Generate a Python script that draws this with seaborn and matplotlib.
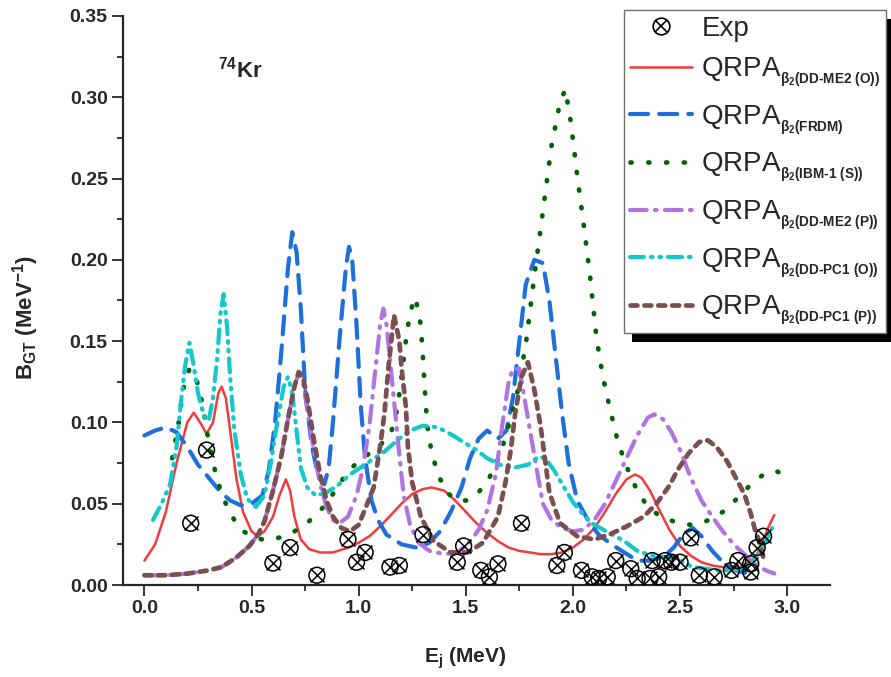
import matplotlib
matplotlib.use("Agg")
import matplotlib.pyplot as plt
import seaborn as sns
import pandas as pd
from matplotlib.lines import Line2D
from matplotlib.patches import Rectangle
from matplotlib.ticker import MultipleLocator, FormatStrFormatter

# ---------------- data ----------------
red_x = [0.00, 0.05, 0.10, 0.15, 0.20, 0.23, 0.26, 0.29, 0.32, 0.345, 0.36, 0.38, 0.40, 0.43, 0.46,
         0.50, 0.53, 0.56, 0.60, 0.63, 0.66, 0.68, 0.70, 0.73, 0.77, 0.82, 0.88, 0.95, 1.00, 1.05,
         1.10, 1.15, 1.20, 1.25, 1.30, 1.34, 1.40, 1.45, 1.50, 1.55, 1.60, 1.65, 1.70, 1.75, 1.80,
         1.85, 1.90, 1.95, 2.00, 2.05, 2.10, 2.15, 2.20, 2.25, 2.29, 2.32, 2.36, 2.40, 2.45, 2.50,
         2.55, 2.60, 2.65, 2.70, 2.75, 2.80, 2.85, 2.88, 2.91, 2.94]
red_y = [0.015, 0.025, 0.045, 0.075, 0.100, 0.106, 0.100, 0.093, 0.100, 0.118, 0.122, 0.115, 0.095, 0.065, 0.045,
         0.033, 0.030, 0.033, 0.042, 0.055, 0.065, 0.058, 0.042, 0.028, 0.022, 0.020, 0.020, 0.023, 0.026, 0.030,
         0.036, 0.043, 0.050, 0.056, 0.059, 0.060, 0.058, 0.052, 0.045, 0.038, 0.032, 0.027, 0.023, 0.021, 0.020,
         0.019, 0.019, 0.020, 0.023, 0.028, 0.035, 0.045, 0.056, 0.065, 0.068, 0.066, 0.058, 0.047, 0.034, 0.024,
         0.018, 0.014, 0.012, 0.011, 0.010, 0.012, 0.017, 0.024, 0.035, 0.043]

blue_x = [0.00, 0.05, 0.10, 0.15, 0.20, 0.25, 0.30, 0.35, 0.40, 0.45, 0.50, 0.55, 0.58, 0.61, 0.64,
          0.67, 0.69, 0.71, 0.73, 0.75, 0.78, 0.81, 0.84, 0.86, 0.88, 0.91, 0.94, 0.955, 0.97, 0.99,
          1.01, 1.03, 1.06, 1.09, 1.13, 1.20, 1.27, 1.33, 1.38, 1.43, 1.48, 1.52, 1.56, 1.60, 1.65,
          1.69, 1.72, 1.75, 1.78, 1.82, 1.86, 1.89, 1.92, 1.95, 1.98, 2.02, 2.07, 2.12, 2.18, 2.24,
          2.30, 2.36, 2.42, 2.47, 2.52, 2.56, 2.60, 2.65, 2.70, 2.76, 2.82, 2.85]
blue_y = [0.092, 0.095, 0.097, 0.094, 0.085, 0.074, 0.066, 0.058, 0.052, 0.049, 0.050, 0.055, 0.070, 0.100, 0.145,
          0.195, 0.217, 0.205, 0.170, 0.120, 0.087, 0.067, 0.062, 0.072, 0.100, 0.150, 0.195, 0.208, 0.200, 0.160,
          0.110, 0.078, 0.052, 0.040, 0.031, 0.025, 0.023, 0.026, 0.033, 0.045, 0.060, 0.078, 0.090, 0.095, 0.090,
          0.095, 0.115, 0.150, 0.185, 0.200, 0.198, 0.175, 0.140, 0.105, 0.075, 0.052, 0.040, 0.031, 0.025, 0.020,
          0.015, 0.015, 0.017, 0.023, 0.032, 0.035, 0.030, 0.021, 0.014, 0.009, 0.007, 0.007]

green_x = [0.13, 0.16, 0.18, 0.21, 0.24, 0.27, 0.30, 0.33, 0.36, 0.40, 0.45, 0.50, 0.55, 0.60, 0.65,
           0.70, 0.75, 0.80, 0.85, 0.90, 0.95, 1.00, 1.05, 1.10, 1.15, 1.18, 1.20, 1.22, 1.24, 1.265,
           1.29, 1.30, 1.31, 1.32, 1.34, 1.37, 1.41, 1.46, 1.51, 1.56, 1.61, 1.66, 1.70, 1.74, 1.78,
           1.82, 1.86, 1.90, 1.94, 1.965, 1.99, 2.02, 2.05, 2.08, 2.11, 2.14, 2.17, 2.21, 2.25, 2.30,
           2.35, 2.40, 2.45, 2.50, 2.55, 2.60, 2.65, 2.70, 2.75, 2.80, 2.85, 2.90, 2.95, 3.00]
green_y = [0.078, 0.100, 0.120, 0.133, 0.128, 0.112, 0.088, 0.070, 0.056, 0.044, 0.034, 0.030, 0.028, 0.028, 0.030,
           0.033, 0.037, 0.043, 0.050, 0.060, 0.070, 0.076, 0.081, 0.086, 0.093, 0.108, 0.128, 0.150, 0.168, 0.177,
           0.160, 0.140, 0.118, 0.098, 0.082, 0.068, 0.057, 0.052, 0.052, 0.057, 0.066, 0.080, 0.098, 0.118, 0.148,
           0.190, 0.230, 0.270, 0.297, 0.305, 0.285, 0.252, 0.222, 0.190, 0.152, 0.128, 0.110, 0.088, 0.073, 0.058,
           0.048, 0.043, 0.040, 0.038, 0.037, 0.038, 0.041, 0.045, 0.051, 0.058, 0.064, 0.069, 0.070, 0.067]

purple_x = [0.00, 0.10, 0.20, 0.30, 0.36, 0.43, 0.49, 0.53, 0.56, 0.60, 0.64, 0.67, 0.70, 0.72, 0.74,
            0.76, 0.79, 0.82, 0.85, 0.88, 0.91, 0.95, 0.99, 1.02, 1.05, 1.08, 1.10, 1.115, 1.13, 1.16,
            1.19, 1.21, 1.24, 1.28, 1.33, 1.40, 1.46, 1.51, 1.56, 1.60, 1.64, 1.67, 1.70, 1.72, 1.75,
            1.77, 1.80, 1.83, 1.86, 1.90, 1.95, 2.00, 2.05, 2.10, 2.15, 2.20, 2.25, 2.30, 2.35, 2.38,
            2.42, 2.46, 2.50, 2.55, 2.60, 2.65, 2.70, 2.75, 2.80, 2.85, 2.90, 2.94]
purple_y = [0.006, 0.006, 0.007, 0.009, 0.011, 0.017, 0.024, 0.031, 0.039, 0.058, 0.080, 0.102, 0.122, 0.130, 0.125,
            0.108, 0.083, 0.062, 0.048, 0.040, 0.038, 0.042, 0.055, 0.072, 0.098, 0.135, 0.160, 0.170, 0.160, 0.120,
            0.080, 0.055, 0.037, 0.026, 0.021, 0.019, 0.020, 0.025, 0.034, 0.046, 0.068, 0.098, 0.125, 0.133, 0.133,
            0.118, 0.095, 0.072, 0.050, 0.040, 0.035, 0.033, 0.034, 0.040, 0.050, 0.064, 0.078, 0.092, 0.103, 0.105,
            0.102, 0.094, 0.083, 0.066, 0.052, 0.042, 0.033, 0.025, 0.019, 0.013, 0.009, 0.007]

cyan_x = [0.04, 0.08, 0.12, 0.15, 0.17, 0.19, 0.21, 0.23, 0.25, 0.28, 0.30, 0.32, 0.34, 0.355, 0.37,
          0.385, 0.40, 0.42, 0.45, 0.48, 0.52, 0.56, 0.59, 0.62, 0.65, 0.67, 0.69, 0.71, 0.73, 0.76,
          0.80, 0.85, 0.90, 0.96, 1.04, 1.12, 1.18, 1.24, 1.30, 1.37, 1.44, 1.50, 1.55, 1.60, 1.66,
          1.72, 1.79, 1.84, 1.87, 1.91, 1.95, 2.00, 2.05, 2.10, 2.17, 2.24, 2.30, 2.37, 2.44, 2.50,
          2.56, 2.62, 2.68, 2.75, 2.81, 2.86, 2.90, 2.93]
cyan_y = [0.040, 0.050, 0.062, 0.085, 0.112, 0.135, 0.149, 0.135, 0.118, 0.103, 0.101, 0.115, 0.140, 0.167, 0.179,
          0.160, 0.128, 0.095, 0.068, 0.053, 0.048, 0.055, 0.075, 0.100, 0.122, 0.128, 0.118, 0.095, 0.072, 0.060,
          0.055, 0.057, 0.061, 0.068, 0.075, 0.082, 0.089, 0.095, 0.098, 0.097, 0.092, 0.087, 0.083, 0.078, 0.074,
          0.072, 0.074, 0.079, 0.078, 0.071, 0.062, 0.051, 0.043, 0.037, 0.032, 0.027, 0.021, 0.018, 0.017, 0.015,
          0.011, 0.010, 0.009, 0.009, 0.011, 0.018, 0.027, 0.035]

brown_x = [0.00, 0.10, 0.20, 0.30, 0.36, 0.43, 0.49, 0.53, 0.56, 0.60, 0.64, 0.67, 0.70, 0.72, 0.74,
           0.76, 0.79, 0.82, 0.85, 0.88, 0.92, 0.96, 1.00, 1.04, 1.07, 1.10, 1.12, 1.14, 1.165, 1.19,
           1.20, 1.22, 1.23, 1.25, 1.29, 1.35, 1.43, 1.51, 1.58, 1.65, 1.685, 1.71, 1.73, 1.76, 1.79,
           1.82, 1.85, 1.87, 1.89, 1.94, 2.02, 2.10, 2.17, 2.25, 2.33, 2.39, 2.45, 2.49, 2.54, 2.59,
           2.63, 2.67, 2.72, 2.76, 2.80, 2.83, 2.85, 2.875, 2.89]
brown_y = [0.006, 0.006, 0.007, 0.009, 0.011, 0.017, 0.024, 0.031, 0.039, 0.058, 0.080, 0.102, 0.122, 0.131, 0.128,
           0.115, 0.090, 0.068, 0.052, 0.042, 0.035, 0.033, 0.037, 0.050, 0.060, 0.085, 0.105, 0.135, 0.166, 0.150,
           0.134, 0.110, 0.085, 0.063, 0.042, 0.027, 0.020, 0.020, 0.026, 0.042, 0.063, 0.083, 0.105, 0.128, 0.137,
           0.120, 0.097, 0.077, 0.057, 0.038, 0.030, 0.028, 0.031, 0.036, 0.042, 0.050, 0.061, 0.071, 0.081, 0.088,
           0.089, 0.085, 0.076, 0.066, 0.056, 0.044, 0.034, 0.025, 0.016]

exp_x = [0.216, 0.29, 0.60, 0.68, 0.805, 0.95, 0.99, 1.03, 1.146, 1.19, 1.30, 1.46, 1.49, 1.57, 1.61,
         1.65, 1.76, 1.925, 1.96, 2.04, 2.09, 2.12, 2.16, 2.20, 2.27, 2.30, 2.36, 2.40, 2.37, 2.43,
         2.46, 2.50, 2.55, 2.59, 2.66, 2.74, 2.77, 2.83, 2.86, 2.89, 2.83]
exp_y = [0.038, 0.083, 0.0135, 0.023, 0.006, 0.028, 0.014, 0.020, 0.011, 0.012, 0.031, 0.014, 0.024, 0.009, 0.005,
         0.013, 0.038, 0.012, 0.020, 0.009, 0.005, 0.004, 0.005, 0.015, 0.010, 0.004, 0.004, 0.005, 0.015, 0.015,
         0.014, 0.014, 0.029, 0.006, 0.005, 0.009, 0.015, 0.013, 0.023, 0.030, 0.008]

x_ticks = [0.0, 0.5, 1.0, 1.5, 2.0, 2.5, 3.0]
y_ticks = [0.00, 0.05, 0.10, 0.15, 0.20, 0.25, 0.30, 0.35]

labels = ["Exp",
          r"QRPA$_{_{\mathbf{\beta_2(DD‐ME2\ (O))}}}$",
          r"QRPA$_{_{\mathbf{\beta_2(FRDM)}}}$",
          r"QRPA$_{_{\mathbf{\beta_2(IBM‐1\ (S))}}}$",
          r"QRPA$_{_{\mathbf{\beta_2(DD‐ME2\ (P))}}}$",
          r"QRPA$_{_{\mathbf{\beta_2(DD‐PC1\ (O))}}}$",
          r"QRPA$_{_{\mathbf{\beta_2(DD‐PC1\ (P))}}}$"]

# ---------------- style ----------------
sns.set_style("ticks")
plt.rcParams["font.family"] = ["Liberation Sans", "DejaVu Sans"]
plt.rcParams["mathtext.fontset"] = "custom"
plt.rcParams["mathtext.rm"] = "Liberation Sans"
plt.rcParams["mathtext.bf"] = "Liberation Sans:bold"
plt.rcParams["mathtext.it"] = "Liberation Sans:italic"
plt.rcParams["mathtext.sf"] = "Liberation Sans"
plt.rcParams["lines.scale_dashes"] = False

fig = plt.figure(figsize=(8.91, 6.77), dpi=100)
ax = fig.add_axes([123 / 891, 92 / 677, (830 - 123) / 891, (585 - 16) / 677])
ax.set_facecolor("none")

series = [
    (red_x, red_y, "#F03C3C", 1.8, None),
    (blue_x, blue_y, "#1E6FDC", 3.0, (13, 8)),
    (green_x, green_y, "#006400", 3.4, (0.8, 12)),
    (purple_x, purple_y, "#B074E0", 3.0, (12, 6, 1.2, 6)),
    (cyan_x, cyan_y, "#12C8CC", 3.0, (10, 5, 1.2, 5, 1.2, 5)),
    (brown_x, brown_y, "#7B4F50", 3.4, (5, 5)),
]

handles = []
for xs, ys, col, lw, dash in series:
    df = pd.DataFrame({"E": xs, "B": ys})
    sns.lineplot(data=df, x="E", y="B", color=col, linewidth=lw, sort=False,
                 estimator=None, ax=ax)
    ln = ax.lines[-1]
    if dash is not None:
        ln.set_dashes(dash)
        ln.set_dash_capstyle("round")
    h = Line2D([0], [0], color=col, linewidth=lw)
    if dash is not None:
        h.set_dashes(dash)
        h.set_dash_capstyle("round")
    handles.append(h)

exp_df = pd.DataFrame({"E": exp_x, "B": exp_y})
sns.scatterplot(data=exp_df, x="E", y="B", marker="o", s=130, facecolor="none",
                edgecolor="black", linewidth=1.1, ax=ax, zorder=5)
sns.scatterplot(data=exp_df, x="E", y="B", marker="x", s=100, color="black",
                linewidth=1.1, ax=ax, zorder=5)

exp_handle = (Line2D([0], [0], marker="o", ls="none", ms=12, mfc="none", mec="black", mew=1.2),
              Line2D([0], [0], marker="x", ls="none", ms=9, color="black", mew=1.2))

ax.set_xlim(-0.1, 3.2)
ax.set_ylim(0, 0.35)
ax.set_xticks(x_ticks)
ax.set_yticks(y_ticks)
ax.xaxis.set_minor_locator(MultipleLocator(0.25))
ax.yaxis.set_minor_locator(MultipleLocator(0.025))
ax.xaxis.set_major_formatter(FormatStrFormatter("%.1f"))
ax.yaxis.set_major_formatter(FormatStrFormatter("%.2f"))
sns.despine(ax=ax)
for sp in ["left", "bottom"]:
    ax.spines[sp].set_linewidth(1.6)
ax.tick_params(which="major", length=8, width=1.3, direction="out", labelsize=14, pad=3)
ax.tick_params(which="minor", length=4.5, width=1.3, direction="out")
for t in ax.get_xticklabels() + ax.get_yticklabels():
    t.set_fontweight("bold")

ax.set_xlabel(r"E$_\mathbf{j}$ (MeV)", fontsize=15, fontweight="bold")
ax.set_ylabel(r"B$_\mathbf{GT}$ (MeV$^\mathbf{-1}$)", fontsize=16, fontweight="bold")
ax.xaxis.set_label_coords(0.484, -0.106)
ax.yaxis.set_label_coords(-0.116, 0.47)

ax.text(0.345, 0.317, r"$^\mathbf{74}$Kr", fontsize=16, fontweight="bold",
        ha="left", va="center")

leg = ax.legend([exp_handle] + handles, labels, loc="upper right",
                bbox_to_anchor=(886 / 891, 1 - 10 / 677), bbox_transform=fig.transFigure,
                borderaxespad=0, fontsize=20, frameon=True, fancybox=False, framealpha=1,
                facecolor="white", handlelength=2.25, handletextpad=0.32, borderpad=0.2,
                labelspacing=0.5)
leg.get_frame().set_edgecolor("#707070")
leg.get_frame().set_linewidth(1.0)
leg.set_zorder(10)

fig.canvas.draw()
bb = leg.get_window_extent()
inv = fig.transFigure.inverted()
(x0, y0) = inv.transform((bb.x0 + 8, bb.y0 - 9))
(x1, y1) = inv.transform((bb.x1 + 8, bb.y1 - 9))
shadow = Rectangle((x0, y0), x1 - x0, y1 - y0, transform=fig.transFigure,
                   facecolor="black", edgecolor="none", zorder=9, clip_on=False)
ax.add_artist(shadow)

fig.savefig("out.png", dpi=100)
